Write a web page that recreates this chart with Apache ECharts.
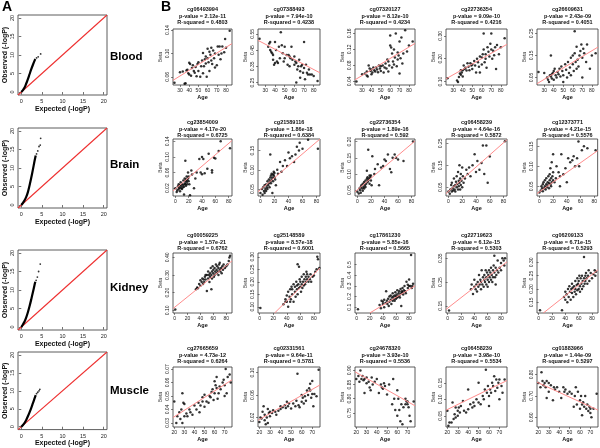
<!DOCTYPE html>
<html><head><meta charset="utf-8">
<script src="https://cdn.jsdelivr.net/npm/echarts@6/dist/echarts.min.js"></script>
<style>html,body{margin:0;padding:0;background:#fff}#c{width:600px;height:448px}</style>
</head><body><div id="c"></div>
<script>
// ---------------- Panel A: QQ plots ----------------
const tissues = ['Blood', 'Brain', 'Kidney', 'Muscle'];
const qqTicks = [0, 5, 10, 15, 20];
const qqRange = [-0.8, 20.8];
const qqDiag = [[-0.8, -0.8], [20.8, 20.8]];
const qqBloodExp = [0, 0.4, 0.8, 1.2, 1.6, 2.0, 2.4, 2.8, 3.2, 3.4];
const qqBloodObs = [0, 0.5, 1.2, 2.3, 3.5, 4.8, 6.1, 7.3, 8.4, 8.9];
const qqBloodTail = [[3.7, 9.2], [4.1, 9.5], [4.7, 10.3]];
const qqBrainExp = [0, 0.4, 0.8, 1.2, 1.6, 2.0, 2.4, 2.8, 3.2, 3.5];
const qqBrainObs = [0, 0.6, 1.3, 2.2, 3.5, 5.3, 7.3, 9.5, 11.8, 13.4];
const qqBrainTail = [[3.7, 13.8], [4.0, 14.6], [4.3, 15.8], [4.6, 16.2], [4.7, 18.0]];
const qqKidneyExp = [0, 0.4, 0.8, 1.2, 1.6, 2.0, 2.4, 2.8, 3.2, 3.4];
const qqKidneyObs = [0, 0.7, 1.5, 2.6, 4.0, 5.6, 7.4, 9.3, 11.3, 12.2];
const qqKidneyTail = [[3.6, 12.6], [3.9, 13.5], [4.2, 15.0], [4.6, 17.0]];
const qqMuscleExp = [0, 0.4, 0.8, 1.2, 1.6, 2.0, 2.4, 2.8, 3.2, 3.5];
const qqMuscleObs = [0, 0.5, 1.1, 1.9, 2.9, 4.0, 5.2, 6.5, 7.8, 8.8];
const qqMuscleTail = [[3.7, 9.2], [4.0, 9.6], [4.3, 10.0], [4.5, 10.4]];

// ---------------- Panel B: scatter plots ----------------
const probes = [
  ['cg06493994', 'cg07388493', 'cg07320127', 'cg22736354', 'cg26609631'],
  ['cg23854009', 'cg21589116', 'cg22736354', 'cg06458239', 'cg12373771'],
  ['cg00059225', 'cg25148589', 'cg17861230', 'cg22719623', 'cg06209133'],
  ['cg27665659', 'cg02331561', 'cg24678320', 'cg06458239', 'cg01883966']
];
const pValues = [
  ['2.12e-11', '7.94e-10', '8.12e-10', '9.09e-10', '2.43e-09'],
  ['4.17e-20', '1.86e-18', '1.89e-16', '4.64e-16', '4.21e-15'],
  ['1.57e-21', '8.57e-18', '5.85e-16', '6.12e-15', '6.71e-15'],
  ['4.73e-12', '9.64e-11', '3.93e-10', '3.98e-10', '1.44e-09']
];
const rSquared = [
  ['0.4803', '0.4238', '0.4234', '0.4216', '0.4051'],
  ['0.6725', '0.6384', '0.592', '0.5872', '0.5576'],
  ['0.6762', '0.6001', '0.5665', '0.5303', '0.5293'],
  ['0.6264', '0.5781', '0.5536', '0.5534', '0.5297']
];
const ageRange = [[22.4, 86.5], [-3.5, 85], [-2.5, 89], [18.7, 77.3]];
const ageTicks = [[30, 40, 50, 60, 70, 80], [0, 20, 40, 60, 80], [0, 20, 40, 60, 80], [20, 30, 40, 50, 60, 70]];
const betaRange = [
  [[0.046, 0.142], [0.235, 0.58], [0.031, 0.171], [0.085, 0.33], [0.016, 0.27]],
  [[0.0, 0.146], [0.032, 0.18], [0.032, 0.208], [0.01, 0.27], [0.026, 0.168]],
  [[0.085, 0.425], [0.075, 0.315], [0.045, 0.61], [0.12, 0.372], [0.11, 0.335]],
  [[0.027, 0.0715], [0.003, 0.11], [0.70, 0.912], [0.016, 0.198], [0.555, 0.835]]
];
const betaTicks = [
  [['0.06', '0.10', '0.14'], ['0.25', '0.35', '0.45', '0.55'], ['0.04', '0.08', '0.12', '0.16'], ['0.10', '0.20', '0.30'], ['0.05', '0.15', '0.25']],
  [['0.02', '0.06', '0.10', '0.14'], ['0.05', '0.10', '0.15'], ['0.05', '0.10', '0.15', '0.20'], ['0.05', '0.15', '0.25'], ['0.05', '0.10', '0.15']],
  [['0.10', '0.20', '0.30', '0.40'], ['0.10', '0.15', '0.20', '0.25', '0.30'], ['0.1', '0.2', '0.3', '0.4', '0.5'], ['0.15', '0.25', '0.35'], ['0.15', '0.20', '0.25', '0.30']],
  [['0.03', '0.04', '0.05', '0.06', '0.07'], ['0.02', '0.06', '0.10'], ['0.75', '0.80', '0.85', '0.90'], ['0.05', '0.10', '0.15'], ['0.60', '0.70', '0.80']]
];
const fitLines = [
  [[[22.4, 0.054], [86.5, 0.117]], [[22.4, 0.51], [86.5, 0.31]], [[22.4, 0.044], [86.5, 0.135]], [[22.4, 0.112], [86.5, 0.263]], [[22.4, 0.022], [86.5, 0.188]]],
  [[[-3.5, 0.013], [85, 0.142]], [[-3.5, 0.043], [85, 0.18]], [[-3.5, 0.045], [85, 0.202]], [[-3.5, 0.021], [85, 0.267]], [[-3.5, 0.032], [85, 0.139]]],
  [[[-2.5, 0.11], [89, 0.38]], [[22, 0.075], [89, 0.255]], [[20, 0.045], [89, 0.30]], [[-2.5, 0.135], [89, 0.335]], [[7, 0.11], [89, 0.272]]],
  [[[18.7, 0.034], [77.3, 0.062]], [[18.7, 0.015], [77.3, 0.078]], [[18.7, 0.895], [77.3, 0.775]], [[18.7, 0.067], [77.3, 0.157]], [[18.7, 0.764], [77.3, 0.634]]]
];

// Blood
const blood1 = [[24,0.050],[30,0.068],[33,0.069],[35,0.048],[36,0.049],[37,0.071],[38,0.072],[39,0.066],[40,0.064],[40,0.084],[41,0.082],[42,0.062],[43,0.075],[44,0.080],[45,0.070],[46,0.067],[47,0.077],[48,0.061],[49,0.082],[50,0.085],[50,0.070],[52,0.060],[53,0.078],[54,0.088],[55,0.066],[55,0.101],[56,0.078],[57,0.090],[58,0.095],[58,0.083],[59,0.060],[60,0.108],[60,0.092],[61,0.085],[62,0.103],[62,0.070],[63,0.098],[64,0.110],[64,0.088],[65,0.082],[66,0.105],[67,0.092],[68,0.076],[68,0.100],[70,0.080],[71,0.112],[72,0.098],[73,0.112],[74,0.090],[75,0.100],[76,0.112],[78,0.102],[79,0.125],[80,0.110],[84,0.139]];
const blood2 = [[24,0.52],[33,0.47],[34,0.49],[35,0.50],[35,0.45],[36,0.44],[37,0.43],[38,0.42],[38,0.39],[39,0.36],[40,0.37],[40,0.50],[41,0.45],[42,0.38],[43,0.37],[44,0.47],[45,0.40],[46,0.56],[47,0.48],[48,0.43],[49,0.38],[50,0.40],[50,0.47],[52,0.42],[53,0.36],[54,0.42],[55,0.35],[55,0.41],[56,0.40],[57,0.47],[58,0.39],[60,0.36],[60,0.41],[61,0.38],[62,0.37],[62,0.25],[63,0.33],[64,0.35],[65,0.39],[66,0.32],[66,0.28],[67,0.35],[68,0.36],[69,0.31],[70,0.50],[70,0.34],[71,0.27],[72,0.36],[73,0.31],[74,0.30],[75,0.33],[76,0.30],[78,0.30],[80,0.29],[84,0.26]];
const blood3 = [[24,0.040],[30,0.058],[33,0.060],[35,0.065],[35,0.055],[36,0.052],[37,0.080],[38,0.072],[39,0.066],[40,0.070],[40,0.058],[41,0.062],[42,0.075],[43,0.068],[44,0.065],[45,0.075],[46,0.070],[47,0.063],[48,0.080],[49,0.072],[50,0.078],[50,0.066],[52,0.080],[53,0.062],[54,0.075],[55,0.085],[56,0.072],[57,0.095],[58,0.090],[58,0.065],[59,0.080],[60,0.155],[60,0.130],[61,0.125],[62,0.110],[62,0.075],[63,0.090],[64,0.082],[64,0.120],[65,0.100],[66,0.160],[67,0.078],[68,0.095],[68,0.112],[69,0.105],[70,0.060],[70,0.140],[71,0.098],[72,0.150],[73,0.085],[74,0.110],[76,0.168],[78,0.115],[80,0.130],[84,0.140]];
const blood4 = [[24,0.115],[34,0.105],[35,0.098],[36,0.120],[37,0.135],[38,0.150],[38,0.130],[39,0.140],[40,0.150],[40,0.122],[41,0.170],[42,0.155],[43,0.160],[44,0.148],[45,0.180],[46,0.165],[47,0.150],[48,0.180],[49,0.170],[50,0.175],[50,0.155],[52,0.190],[53,0.170],[54,0.140],[55,0.200],[56,0.185],[57,0.165],[58,0.210],[58,0.140],[60,0.205],[60,0.175],[61,0.220],[62,0.240],[62,0.310],[63,0.185],[64,0.220],[64,0.200],[65,0.160],[66,0.250],[67,0.230],[68,0.210],[69,0.265],[70,0.310],[70,0.240],[71,0.200],[72,0.235],[73,0.215],[74,0.250],[75,0.155],[76,0.260],[78,0.220],[80,0.250],[84,0.290]];
const blood5 = [[24,0.075],[30,0.070],[33,0.050],[34,0.040],[35,0.030],[36,0.060],[37,0.055],[37,0.150],[38,0.045],[38,0.065],[39,0.070],[40,0.040],[40,0.080],[41,0.090],[42,0.060],[43,0.050],[44,0.075],[45,0.065],[46,0.090],[47,0.055],[48,0.100],[49,0.080],[50,0.030],[50,0.060],[52,0.110],[53,0.085],[54,0.050],[55,0.120],[56,0.070],[57,0.095],[58,0.140],[58,0.060],[60,0.150],[60,0.110],[61,0.080],[62,0.160],[62,0.260],[63,0.120],[64,0.090],[64,0.190],[65,0.130],[66,0.100],[67,0.150],[68,0.170],[69,0.200],[70,0.140],[70,0.050],[71,0.180],[72,0.160],[74,0.120],[75,0.200],[78,0.090],[80,0.150],[84,0.160]];
// Brain
const brain1 = [[0,0.020],[2,0.010],[3,0.015],[4,0.025],[5,0.018],[5,0.030],[6,0.022],[7,0.012],[7,0.028],[8,0.020],[8,0.035],[9,0.025],[10,0.018],[10,0.030],[11,0.022],[12,0.028],[12,0.040],[13,0.024],[14,0.032],[14,0.045],[15,0.030],[15,0.038],[16,0.026],[16,0.042],[17,0.035],[17,0.050],[18,0.040],[18,0.030],[19,0.045],[19,0.060],[20,0.038],[20,0.050],[21,0.030],[22,0.002],[15,0.090],[24,0.065],[28,0.020],[30,0.045],[32,0.060],[36,0.095],[38,0.060],[40,0.100],[40,0.056],[42,0.095],[44,0.058],[48,0.070],[50,0.108],[55,0.060],[55,0.066],[58,0.098],[60,0.096],[65,0.115],[68,0.140],[82,0.122],[13,0.004],[25,0.055]];
const brain2 = [[0,0.040],[2,0.050],[3,0.035],[4,0.055],[5,0.045],[6,0.060],[6,0.040],[7,0.050],[8,0.062],[8,0.045],[9,0.055],[10,0.070],[10,0.050],[11,0.060],[12,0.065],[12,0.075],[13,0.055],[14,0.070],[14,0.080],[15,0.065],[15,0.085],[16,0.075],[16,0.090],[17,0.080],[18,0.070],[18,0.088],[19,0.085],[19,0.095],[20,0.080],[20,0.092],[21,0.075],[22,0.060],[14,0.140],[24,0.100],[25,0.090],[28,0.120],[30,0.095],[32,0.110],[35,0.125],[38,0.110],[40,0.145],[42,0.130],[45,0.135],[48,0.120],[50,0.140],[52,0.160],[55,0.150],[56,0.170],[60,0.155],[68,0.178],[82,0.155],[17,0.040]];
const brain3 = [[0,0.045],[2,0.040],[3,0.055],[4,0.050],[5,0.060],[5,0.042],[6,0.065],[7,0.055],[8,0.070],[8,0.048],[9,0.060],[10,0.075],[10,0.055],[11,0.065],[12,0.080],[12,0.060],[13,0.070],[14,0.085],[14,0.110],[15,0.075],[15,0.090],[16,0.080],[16,0.175],[17,0.085],[18,0.070],[18,0.095],[19,0.090],[20,0.080],[20,0.095],[21,0.065],[22,0.155],[25,0.100],[26,0.115],[30,0.130],[32,0.065],[35,0.120],[38,0.125],[40,0.145],[42,0.140],[45,0.160],[48,0.115],[50,0.105],[52,0.150],[55,0.160],[57,0.150],[60,0.145],[68,0.140],[82,0.200]];
const brain4 = [[0,0.030],[2,0.020],[3,0.040],[4,0.060],[5,0.030],[5,0.070],[6,0.045],[7,0.035],[8,0.055],[8,0.090],[9,0.040],[10,0.060],[10,0.030],[11,0.075],[12,0.050],[12,0.100],[13,0.065],[14,0.040],[14,0.120],[15,0.080],[15,0.055],[16,0.150],[16,0.070],[17,0.090],[17,0.040],[18,0.110],[18,0.060],[19,0.080],[20,0.140],[20,0.050],[21,0.100],[22,0.070],[24,0.090],[26,0.130],[28,0.110],[30,0.140],[32,0.100],[35,0.150],[38,0.200],[40,0.120],[42,0.170],[45,0.130],[48,0.160],[50,0.240],[52,0.110],[55,0.240],[57,0.070],[60,0.190],[82,0.260]];
const brain5 = [[0,0.035],[2,0.040],[3,0.050],[4,0.045],[5,0.055],[5,0.038],[6,0.060],[7,0.045],[8,0.050],[8,0.065],[9,0.042],[10,0.055],[10,0.070],[11,0.048],[12,0.060],[12,0.052],[13,0.075],[14,0.058],[14,0.045],[15,0.065],[15,0.080],[16,0.055],[16,0.095],[17,0.070],[17,0.050],[18,0.060],[18,0.110],[19,0.075],[20,0.065],[20,0.085],[22,0.060],[24,0.070],[25,0.100],[28,0.085],[30,0.075],[32,0.130],[35,0.080],[38,0.095],[40,0.060],[42,0.120],[45,0.110],[48,0.115],[50,0.125],[52,0.100],[55,0.120],[57,0.162],[58,0.100],[62,0.140],[65,0.150],[70,0.145],[82,0.140],[30,0.050],[20,0.130]];
// Kidney
const kidney1 = [[1,0.105],[33,0.220],[35,0.230],[36,0.225],[38,0.250],[40,0.240],[40,0.270],[42,0.260],[43,0.280],[44,0.250],[45,0.275],[46,0.260],[47,0.290],[48,0.275],[50,0.300],[50,0.210],[52,0.280],[52,0.320],[53,0.300],[54,0.260],[55,0.310],[55,0.290],[56,0.340],[57,0.300],[58,0.320],[58,0.280],[59,0.350],[60,0.310],[60,0.330],[61,0.290],[62,0.340],[62,0.300],[63,0.320],[64,0.360],[65,0.310],[65,0.330],[66,0.350],[67,0.320],[68,0.340],[68,0.300],[69,0.360],[70,0.330],[70,0.370],[71,0.320],[72,0.340],[73,0.310],[74,0.350],[75,0.330],[76,0.360],[78,0.340],[80,0.350],[82,0.360],[84,0.380],[85,0.400],[86,0.410],[57,0.220],[48,0.300]];
const kidney2 = [[1,0.095],[35,0.110],[38,0.130],[40,0.120],[40,0.145],[42,0.100],[42,0.160],[44,0.140],[45,0.170],[46,0.130],[47,0.180],[48,0.150],[48,0.170],[50,0.120],[50,0.190],[52,0.160],[52,0.180],[53,0.140],[54,0.200],[55,0.170],[55,0.185],[56,0.150],[56,0.270],[57,0.190],[58,0.175],[58,0.260],[59,0.210],[60,0.180],[60,0.200],[61,0.160],[62,0.190],[62,0.220],[63,0.175],[64,0.200],[65,0.185],[65,0.230],[66,0.210],[67,0.190],[68,0.220],[68,0.200],[69,0.240],[70,0.210],[70,0.230],[72,0.200],[72,0.220],[74,0.210],[75,0.230],[76,0.200],[78,0.220],[80,0.225],[82,0.240],[84,0.250],[85,0.300],[86,0.290],[88,0.255],[38,0.120],[45,0.120]];
const kidney3 = [[2,0.080],[35,0.120],[37,0.090],[38,0.160],[40,0.150],[40,0.130],[42,0.100],[42,0.170],[44,0.140],[45,0.250],[46,0.160],[47,0.130],[48,0.180],[49,0.110],[50,0.200],[50,0.150],[52,0.170],[52,0.210],[53,0.130],[54,0.190],[55,0.160],[55,0.230],[56,0.200],[57,0.180],[58,0.210],[58,0.160],[59,0.240],[60,0.200],[60,0.180],[61,0.220],[62,0.190],[62,0.260],[63,0.200],[64,0.230],[65,0.210],[65,0.250],[66,0.190],[67,0.270],[68,0.230],[68,0.110],[69,0.250],[70,0.280],[70,0.240],[71,0.220],[72,0.260],[73,0.300],[74,0.250],[75,0.230],[76,0.340],[78,0.280],[78,0.310],[80,0.300],[80,0.360],[82,0.300],[83,0.590],[84,0.280],[85,0.300],[86,0.320]];
const kidney4 = [[2,0.130],[35,0.220],[36,0.240],[38,0.200],[40,0.230],[40,0.260],[42,0.220],[43,0.240],[44,0.210],[45,0.250],[46,0.230],[47,0.280],[48,0.240],[49,0.260],[50,0.220],[50,0.250],[51,0.300],[52,0.240],[53,0.270],[54,0.230],[55,0.260],[55,0.280],[56,0.250],[57,0.300],[58,0.240],[58,0.270],[59,0.290],[60,0.260],[60,0.230],[61,0.280],[62,0.300],[62,0.250],[63,0.270],[64,0.290],[65,0.260],[65,0.310],[66,0.280],[67,0.250],[68,0.300],[68,0.270],[69,0.320],[70,0.290],[70,0.360],[71,0.270],[72,0.310],[73,0.280],[74,0.300],[75,0.340],[76,0.290],[78,0.310],[80,0.300],[80,0.330],[82,0.350],[84,0.340],[85,0.320],[86,0.350],[72,0.240]];
const kidney5 = [[2,0.120],[35,0.120],[38,0.170],[40,0.160],[40,0.190],[42,0.180],[43,0.150],[44,0.200],[45,0.170],[46,0.210],[47,0.190],[48,0.160],[49,0.200],[50,0.220],[50,0.185],[51,0.205],[52,0.170],[53,0.210],[54,0.190],[55,0.230],[55,0.200],[56,0.180],[57,0.215],[58,0.240],[58,0.195],[59,0.220],[60,0.200],[60,0.230],[61,0.250],[62,0.210],[62,0.190],[63,0.240],[64,0.220],[65,0.200],[65,0.250],[66,0.230],[67,0.210],[68,0.320],[68,0.240],[69,0.220],[70,0.250],[70,0.230],[71,0.260],[72,0.240],[73,0.220],[74,0.250],[75,0.270],[76,0.230],[78,0.260],[80,0.240],[82,0.255],[84,0.270],[85,0.250],[86,0.265]];
// Muscle
const muscle1 = [[20,0.046],[22,0.030],[23,0.035],[25,0.038],[26,0.033],[27,0.040],[28,0.052],[28,0.030],[29,0.045],[30,0.044],[30,0.035],[32,0.037],[33,0.035],[35,0.040],[36,0.038],[38,0.036],[40,0.043],[42,0.040],[44,0.045],[45,0.038],[46,0.043],[48,0.046],[48,0.049],[50,0.042],[50,0.051],[52,0.046],[54,0.045],[55,0.050],[56,0.049],[57,0.053],[58,0.055],[59,0.047],[60,0.061],[60,0.052],[61,0.058],[62,0.064],[62,0.056],[63,0.048],[64,0.052],[65,0.057],[66,0.055],[68,0.060],[69,0.062],[70,0.058],[70,0.050],[71,0.070],[72,0.052],[73,0.064],[75,0.066],[76,0.060]];
const muscle2 = [[20,0.012],[21,0.020],[22,0.018],[23,0.030],[24,0.040],[25,0.025],[25,0.015],[26,0.008],[27,0.020],[28,0.035],[28,0.010],[29,0.028],[30,0.022],[30,0.030],[32,0.028],[33,0.033],[35,0.030],[36,0.025],[38,0.032],[40,0.040],[40,0.035],[42,0.038],[44,0.042],[45,0.037],[46,0.048],[47,0.040],[48,0.045],[50,0.036],[52,0.045],[54,0.040],[55,0.050],[56,0.098],[57,0.042],[58,0.038],[60,0.060],[60,0.048],[61,0.055],[62,0.045],[63,0.058],[64,0.050],[65,0.068],[66,0.060],[67,0.072],[68,0.080],[68,0.068],[69,0.055],[70,0.085],[70,0.062],[71,0.040],[72,0.062],[74,0.058],[76,0.105]];
const muscle3 = [[20,0.870],[22,0.880],[23,0.860],[24,0.900],[25,0.870],[26,0.880],[27,0.865],[28,0.870],[28,0.820],[30,0.875],[30,0.855],[32,0.860],[33,0.840],[34,0.830],[35,0.875],[36,0.850],[38,0.860],[40,0.870],[42,0.820],[44,0.850],[45,0.840],[46,0.835],[47,0.855],[48,0.845],[50,0.815],[52,0.850],[55,0.780],[56,0.870],[57,0.800],[58,0.760],[60,0.830],[60,0.740],[61,0.800],[62,0.760],[63,0.720],[64,0.780],[65,0.710],[66,0.770],[68,0.780],[68,0.800],[69,0.790],[70,0.780],[70,0.790],[71,0.770],[72,0.740],[73,0.720],[76,0.790]];
const muscle4 = [[20,0.065],[21,0.020],[22,0.030],[24,0.030],[25,0.090],[26,0.040],[27,0.055],[28,0.075],[28,0.045],[30,0.050],[30,0.065],[31,0.075],[32,0.060],[33,0.080],[35,0.095],[36,0.065],[38,0.060],[40,0.070],[40,0.130],[42,0.085],[44,0.075],[45,0.090],[46,0.080],[48,0.100],[50,0.090],[50,0.150],[52,0.085],[54,0.110],[55,0.100],[56,0.130],[57,0.190],[58,0.120],[59,0.140],[60,0.110],[60,0.080],[61,0.130],[62,0.120],[63,0.150],[64,0.140],[65,0.170],[66,0.125],[67,0.160],[68,0.135],[69,0.150],[70,0.160],[70,0.100],[72,0.140],[73,0.120],[75,0.160]];
const muscle5 = [[20,0.760],[22,0.740],[23,0.810],[24,0.770],[25,0.750],[26,0.760],[27,0.740],[28,0.690],[28,0.770],[30,0.760],[30,0.720],[32,0.750],[34,0.680],[35,0.740],[36,0.730],[38,0.740],[40,0.720],[42,0.690],[44,0.740],[45,0.720],[46,0.730],[48,0.710],[50,0.720],[52,0.710],[54,0.650],[55,0.700],[56,0.740],[57,0.660],[58,0.720],[60,0.640],[60,0.680],[61,0.700],[62,0.610],[62,0.660],[63,0.670],[64,0.650],[65,0.700],[66,0.640],[67,0.660],[68,0.630],[69,0.650],[70,0.620],[70,0.640],[71,0.600],[73,0.640],[76,0.710]];

// ---------------- build ----------------
const FONT = 'Liberation Sans, Arial, Helvetica, sans-serif';
const zip = (a, b) => a.map((v, i) => [v, b[i]]);
const qqCurves = [zip(qqBloodExp, qqBloodObs), zip(qqBrainExp, qqBrainObs), zip(qqKidneyExp, qqKidneyObs), zip(qqMuscleExp, qqMuscleObs)];
const qqTails = [qqBloodTail, qqBrainTail, qqKidneyTail, qqMuscleTail];
const scatterData = [
  [blood1, blood2, blood3, blood4, blood5],
  [brain1, brain2, brain3, brain4, brain5],
  [kidney1, kidney2, kidney3, kidney4, kidney5],
  [muscle1, muscle2, muscle3, muscle4, muscle5]
];

// layout (pixels)
const qqTop = [15, 128, 250, 352];
const qqLabelY = [51, 159, 282, 385];
const rowTop = [29, 139, 253, 367];
const rowH = [56, 57, 60, 60];
const titleTop = [6.5, 119.5, 232.5, 345.5];
const colLeft = [173, 258, 355, 446, 537];
const colW = [59, 62, 60, 61, 61];

const grids = [], xAxes = [], yAxes = [], series = [], titles = [];
let gi = 0;

titles.push({ text: 'A', left: 2, top: 0, padding: 0, textStyle: { fontSize: 14, fontWeight: 'bold', color: '#000', fontFamily: FONT } });
titles.push({ text: 'B', left: 161, top: 0, padding: 0, textStyle: { fontSize: 14, fontWeight: 'bold', color: '#000', fontFamily: FONT } });

// QQ panels
for (let r = 0; r < 4; r++) {
  grids.push({ left: 18, top: qqTop[r], width: 89, height: 80, show: true, borderColor: '#333', borderWidth: 0.8 });
  const common = {
    type: 'value', gridIndex: gi, min: qqRange[0], max: qqRange[1],
    axisLine: { show: false }, splitLine: { show: false },
    axisTick: { show: true, customValues: qqTicks, length: 2.5, lineStyle: { color: '#333', width: 0.7 } },
    nameLocation: 'middle',
    nameTextStyle: { fontSize: 7, fontWeight: 'bold', color: '#111', fontFamily: FONT }
  };
  xAxes.push(Object.assign({}, common, {
    axisLabel: { customValues: qqTicks, fontSize: 5.5, color: '#222', margin: 3.5, fontFamily: FONT },
    name: 'Expected (-logP)', nameGap: 9
  }));
  yAxes.push(Object.assign({}, common, {
    axisLabel: { customValues: qqTicks, fontSize: 5.5, color: '#222', margin: 3, rotate: 90, fontFamily: FONT },
    name: 'Observed (-logP)', nameGap: 7
  }));
  series.push({ type: 'line', xAxisIndex: gi, yAxisIndex: gi, data: qqDiag, symbol: 'none', silent: true,
    lineStyle: { color: '#ee3030', width: 1.1 }, clip: true });
  series.push({ type: 'line', xAxisIndex: gi, yAxisIndex: gi, data: qqCurves[r], symbol: 'none', smooth: 0.3, silent: true,
    lineStyle: { color: '#000', width: 2.2 } });
  series.push({ type: 'scatter', xAxisIndex: gi, yAxisIndex: gi, data: qqTails[r], symbolSize: 1.8, silent: true,
    itemStyle: { color: '#000' } });
  titles.push({ text: tissues[r], left: 110, top: qqLabelY[r], padding: 0,
    textStyle: { fontSize: 11.5, fontWeight: 'bold', color: '#000', fontFamily: FONT } });
  gi++;
}

// scatter panels
for (let r = 0; r < 4; r++) {
  for (let c = 0; c < 5; c++) {
    grids.push({ left: colLeft[c], top: rowTop[r], width: colW[c], height: rowH[r], show: true, borderColor: '#333', borderWidth: 0.8 });
    const yLabs = betaTicks[r][c];
    const yVals = yLabs.map(Number);
    xAxes.push({
      type: 'value', gridIndex: gi, min: ageRange[r][0], max: ageRange[r][1],
      axisLine: { show: false }, splitLine: { show: false },
      axisTick: { show: true, customValues: ageTicks[r], length: 2, lineStyle: { color: '#333', width: 0.6 } },
      axisLabel: { customValues: ageTicks[r], fontSize: 5, color: '#222', margin: 3.5, fontFamily: FONT },
      name: 'Age', nameLocation: 'middle', nameGap: 9,
      nameTextStyle: { fontSize: 5.5, fontWeight: 'bold', color: '#111', fontFamily: FONT }
    });
    yAxes.push({
      type: 'value', gridIndex: gi, min: betaRange[r][c][0], max: betaRange[r][c][1],
      axisLine: { show: false }, splitLine: { show: false },
      axisTick: { show: true, customValues: yVals, length: 2, lineStyle: { color: '#333', width: 0.6 } },
      axisLabel: { customValues: yVals, fontSize: 5, color: '#222', margin: 3, rotate: 90, fontFamily: FONT,
        formatter: v => { const k = yVals.findIndex(t => Math.abs(t - v) < 1e-9); return k >= 0 ? yLabs[k] : String(v); } },
      name: 'Beta', nameLocation: 'middle', nameGap: 10,
      nameTextStyle: { fontSize: 5, color: '#333', fontFamily: FONT }
    });
    series.push({ type: 'scatter', xAxisIndex: gi, yAxisIndex: gi, data: scatterData[r][c], symbolSize: 2.5, silent: true,
      itemStyle: { color: '#000' } });
    series.push({ type: 'line', xAxisIndex: gi, yAxisIndex: gi, data: fitLines[r][c], symbol: 'none', silent: true, clip: true,
      lineStyle: { color: '#ff8c8c', width: 1 } });
    titles.push({
      text: probes[r][c] + '\np-value = ' + pValues[r][c] + '\nR-squared = ' + rSquared[r][c],
      left: colLeft[c] + colW[c] / 2, top: titleTop[r], textAlign: 'center', padding: 0,
      textStyle: { fontSize: 5.5, fontWeight: 'bold', color: '#111', lineHeight: 6.4, fontFamily: FONT, align: 'center' }
    });
    gi++;
  }
}

const chart = echarts.init(document.getElementById('c'), null, { renderer: 'canvas' });
chart.setOption({
  animation: false,
  backgroundColor: '#fff',
  title: titles,
  grid: grids,
  xAxis: xAxes,
  yAxis: yAxes,
  series: series
});
</script></body></html>
